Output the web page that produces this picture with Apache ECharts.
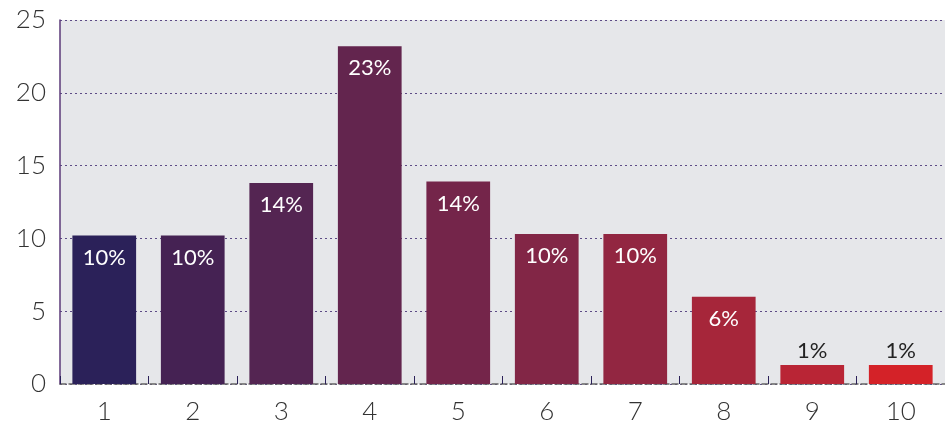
<!DOCTYPE html>
<html><head><meta charset="utf-8">
<script src="https://cdn.jsdelivr.net/npm/echarts@6/dist/echarts.min.js"></script>
<style>html,body{margin:0;padding:0;background:#fff}#c{width:945px;height:425px}</style>
</head><body><div id="c"></div>
<script>
var categories = ['1','2','3','4','5','6','7','8','9','10'];
var values = [10.2, 10.2, 13.8, 23.2, 13.9, 10.3, 10.3, 6.0, 1.3, 1.3];
var labels = ['10%','10%','14%','23%','14%','10%','10%','6%','1%','1%'];
var colors = ['#2b2159','#452253','#542552','#63254e','#74254a','#822646','#922641','#a6263a','#b92535','#d42228'];
var yTicks = [0,5,10,15,20,25];

var chart = echarts.init(document.getElementById('c'));
var data = values.map(function(v,i){
  var small = v < 3;
  return {
    value: v,
    itemStyle: {color: colors[i]},
    label: {
      show: true,
      formatter: labels[i],
      position: small ? 'top' : 'insideTop',
      distance: small ? 3 : 11,
      color: small ? '#222' : '#fff',
      fontSize: 22,
      fontFamily: 'Lato'
    }
  };
});
chart.setOption({
  animation: false,
  grid: {left: 60, right: 0, top: 20, bottom: 39, show: true, backgroundColor: '#e6e7ea', borderWidth: 0},
  xAxis: {
    type: 'category', data: categories,
    axisLine: {lineStyle: {color: '#666', type: 'dashed', width: 1.5}},
    axisTick: {show: true, inside: true, length: 8, lineStyle: {color: '#2b2159'}},
    axisLabel: {color: '#333', fontSize: 26, fontFamily: 'Lato', fontWeight: 300, margin: 15}
  },
  yAxis: {
    type: 'value', min: 0, max: 25, interval: 5,
    axisLine: {show: true, lineStyle: {color: '#5b3a78', width: 1.5}},
    axisTick: {show: false},
    splitLine: {lineStyle: {color: '#5d4b86', type: [2,3], width: 1.2}},
    axisLabel: {color: '#333', fontSize: 26, fontFamily: 'Lato', fontWeight: 300, margin: 14,
      formatter: function(v){ return yTicks.indexOf(v) >= 0 ? String(v) : ''; }}
  },
  series: [{
    type: 'bar', data: data, barWidth: '72%'
  }]
});
</script></body></html>
